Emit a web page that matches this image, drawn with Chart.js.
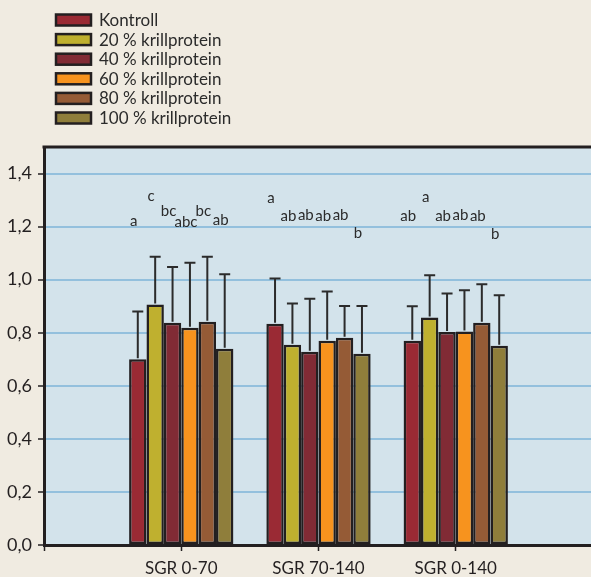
<!DOCTYPE html>
<html>
<head>
<meta charset="utf-8">
<script src="https://cdn.jsdelivr.net/npm/chart.js@4"></script>
<style>
  html, body { margin: 0; padding: 0; background: #f0ebe1; overflow: hidden; }
  #wrap { width: 600px; height: 577px; position: relative; }
</style>
</head>
<body>
<div id="wrap"><canvas id="growthChart"></canvas></div>
<script>
// Categories (SGR periods)
const categories = ['SGR 0-70', 'SGR 70-140', 'SGR 0-140'];
const seriesNames = ['Kontroll', '20 % krillprotein', '40 % krillprotein', '60 % krillprotein', '80 % krillprotein', '100 % krillprotein'];
const seriesColors = ['#9a2a34', '#bfb02f', '#812b35', '#f7931e', '#955b36', '#8f7e3b'];

// Mean SGR per series
const kontroll = [0.70, 0.834, 0.77];
const krill20 = [0.906, 0.755, 0.857];
const krill40 = [0.838, 0.728, 0.803];
const krill60 = [0.819, 0.77, 0.805];
const krill80 = [0.841, 0.781, 0.838];
const krill100 = [0.74, 0.721, 0.751];

// Standard deviation (upper error bar)
const sdKontroll = [0.18, 0.17, 0.13];
const sd20 = [0.18, 0.155, 0.16];
const sd40 = [0.21, 0.2, 0.145];
const sd60 = [0.245, 0.185, 0.155];
const sd80 = [0.245, 0.12, 0.145];
const sd100 = [0.28, 0.18, 0.19];

// Significance letters and their height (y units)
const letters = [
  ['a', 'a', 'ab'],
  ['c', 'ab', 'a'],
  ['bc', 'ab', 'ab'],
  ['abc', 'ab', 'ab'],
  ['bc', 'ab', 'ab'],
  ['ab', 'b', 'b']
];
const letterY = [
  [1.219, 1.306, 1.238],
  [1.313, 1.238, 1.31],
  [1.26, 1.245, 1.238],
  [1.215, 1.238, 1.245],
  [1.257, 1.245, 1.238],
  [1.226, 1.177, 1.17]
];

const yTicks = [0, 0.2, 0.4, 0.6, 0.8, 1.0, 1.2, 1.4];

const means = [kontroll, krill20, krill40, krill60, krill80, krill100];
const sds = [sdKontroll, sd20, sd40, sd60, sd80, sd100];

// empty slot on each side so the groups sit like in the original
const labels = [''].concat(categories, ['']);
const pad = arr => [null].concat(arr, [null]);

const FONT = 'Lato, "Open Sans", sans-serif';
const INK = '#231f20';

// plot background + top frame line
const plotFrame = {
  id: 'plotFrame',
  beforeDraw(chart) {
    const { ctx, chartArea: a } = chart;
    ctx.save();
    ctx.fillStyle = '#d3e3eb';
    ctx.fillRect(a.left, a.top, a.right - a.left, a.bottom - a.top);
    ctx.restore();
  },
  afterDraw(chart) {
    const { ctx, chartArea: a } = chart;
    ctx.save();
    ctx.strokeStyle = INK;
    ctx.lineWidth = 3;
    ctx.beginPath();
    ctx.moveTo(a.left - 1.5, a.top);
    ctx.lineTo(a.right, a.top);
    ctx.stroke();
    ctx.restore();
  }
};

// error bars + letters
const errorBars = {
  id: 'errorBars',
  afterDatasetsDraw(chart) {
    const { ctx } = chart;
    const yScale = chart.scales.y;
    ctx.save();
    chart.data.datasets.forEach((ds, di) => {
      const meta = chart.getDatasetMeta(di);
      meta.data.forEach((bar, i) => {
        const v = ds.data[i];
        if (v == null) return;
        const k = i - 1;
        const top = yScale.getPixelForValue(v + sds[di][k]);
        ctx.strokeStyle = '#2b2b2b';
        ctx.lineWidth = 2;
        ctx.beginPath();
        ctx.moveTo(bar.x, bar.y - 1);
        ctx.lineTo(bar.x, top);
        ctx.moveTo(bar.x - 5.5, top);
        ctx.lineTo(bar.x + 5.5, top);
        ctx.stroke();

        ctx.fillStyle = '#2b2b2b';
        ctx.font = '15px ' + FONT;
        ctx.textAlign = 'center';
        ctx.textBaseline = 'middle';
        ctx.fillText(letters[di][k], bar.x - 4, yScale.getPixelForValue(letterY[di][k]));
      });
    });
    ctx.restore();
  }
};

// vertical legend top-left
const stackedLegend = {
  id: 'stackedLegend',
  afterDraw(chart) {
    const { ctx } = chart;
    ctx.save();
    chart.data.datasets.forEach((ds, i) => {
      const cy = 20 + i * 19.6;
      ctx.fillStyle = ds.backgroundColor;
      ctx.fillRect(56, cy - 5.5, 35, 11);
      ctx.strokeStyle = INK;
      ctx.lineWidth = 2.5;
      ctx.strokeRect(56, cy - 5.5, 35, 11);
      ctx.fillStyle = '#2b2b2b';
      ctx.font = '17px ' + FONT;
      ctx.textAlign = 'left';
      ctx.textBaseline = 'middle';
      ctx.fillText(ds.label, 99, cy + 0.5);
    });
    ctx.restore();
  }
};

new Chart(document.getElementById('growthChart'), {
  type: 'bar',
  data: {
    labels: labels,
    datasets: seriesNames.map((name, i) => ({
      label: name,
      data: pad(means[i]),
      backgroundColor: seriesColors[i],
      borderColor: INK,
      borderWidth: 2.5,
      borderSkipped: false,
      barPercentage: 1,
      categoryPercentage: 0.76
    }))
  },
  options: {
    responsive: true,
    maintainAspectRatio: false,
    animation: false,
    layout: { padding: { top: 147, right: 4, left: 0, bottom: 0 } },
    plugins: {
      legend: { display: false },
      tooltip: { enabled: false }
    },
    scales: {
      x: {
        offset: false,
        grid: { offset: false, drawOnChartArea: false, drawTicks: true, tickLength: 6, tickColor: INK, tickWidth: 1.5 },
        border: { color: INK, width: 3 },
        ticks: { color: INK, font: { family: FONT, size: 17 }, padding: 7, maxRotation: 0, autoSkip: false },
        afterFit(scale) { scale.height = 32; }
      },
      y: {
        min: 0,
        max: 1.5,
        afterBuildTicks(scale) { scale.ticks = yTicks.map(v => ({ value: v })); },
        grid: { color: '#93c0dd', lineWidth: 2, tickLength: 6, tickColor: INK, tickWidth: 1.5 },
        border: { color: INK, width: 3 },
        ticks: {
          color: INK,
          font: { family: FONT, size: 18 },
          padding: 6,
          callback: v => v.toFixed(1).replace('.', ',')
        },
        afterFit(scale) { scale.width = 44; }
      }
    }
  },
  plugins: [plotFrame, errorBars, stackedLegend]
});
</script>
</body>
</html>
